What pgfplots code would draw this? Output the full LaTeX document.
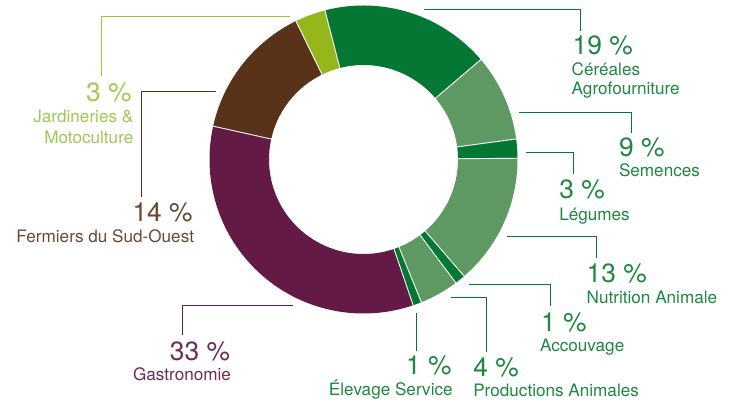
\documentclass[border=0pt]{standalone}
\usepackage{pgfplots}
\usepackage{pgfplotstable}
\pgfplotsset{compat=1.18}
\usepackage{fontspec}
\setmainfont{TeX Gyre Heros}
\definecolor{dgreen}{RGB}{3,119,51}
\definecolor{mgreen}{RGB}{94,152,99}
\definecolor{purp}{RGB}{99,27,69}
\definecolor{brn}{RGB}{88,51,26}
\definecolor{lgreen}{RGB}{149,183,28}
\definecolor{tgreen}{RGB}{30,135,65}
\definecolor{tlgreen}{RGB}{160,200,80}
\definecolor{tbrown}{RGB}{105,72,52}
\definecolor{tpurp}{RGB}{110,42,88}
\definecolor{lline}{RGB}{155,195,60}

\pgfplotstableread{
value color
17.8 dgreen
9.1 mgreen
2.0 dgreen
13.8 mgreen
1.1 dgreen
4.1 mgreen
0.9 dgreen
33.7 purp
14.3 brn
3.2 lgreen
}\shares

\newcommand\pct[1]{{\fontsize{26.5}{30}\selectfont #1}}
\newcommand\lab[1]{{\fontsize{17.2}{20}\selectfont #1}}
\def\startang{104.5}

\begin{document}
\begin{tikzpicture}
\begin{axis}[
  scale only axis, width=730bp, height=401bp,
  xmin=0, xmax=730, ymin=0, ymax=401,
  hide axis, clip=false,
]
\path (axis cs:0,0) rectangle (axis cs:730,401);
% donut segments
\def\acc{0}
\pgfplotsforeachungrouped \i in {0,...,9}{%
  \pgfplotstablegetelem{\i}{value}\of\shares \let\segval\pgfplotsretval
  \pgfplotstablegetelem{\i}{color}\of\shares \let\segcol\pgfplotsretval
  \pgfmathsetmacro\aone{\startang-3.6*\acc}%
  \pgfmathsetmacro\atwo{\startang-3.6*(\acc+\segval)}%
  \edef\temp{\noexpand\addplot[fill=\segcol, draw=none, domain=0:3, samples=241]
   ({363.5+(154-59.5*min(max(x-1,0),1))*cos(\aone+(\atwo-\aone)*(min(x,1)-max(x-2,0)))},
    {241.5+(154-59.5*min(max(x-1,0),1))*sin(\aone+(\atwo-\aone)*(min(x,1)-max(x-2,0)))});}%
  \temp
  \pgfmathsetmacro\acc{\acc+\segval}%
}
% white separators
\def\acc{0}
\pgfplotsforeachungrouped \i in {0,...,9}{%
  \pgfplotstablegetelem{\i}{value}\of\shares \let\segval\pgfplotsretval
  \pgfmathsetmacro\acc{\acc+\segval}%
  \pgfmathsetmacro\aone{\startang-3.6*\acc}%
  \edef\temp{\noexpand\addplot[white, line width=0.9pt, domain=93:155.5, samples=2]
   ({363.5+x*cos(\aone)},{241.5+x*sin(\aone)});}%
  \temp
}
% leader lines
\addplot[dgreen, line width=0.8pt] coordinates {(424,391.5) (580.7,391.5) (580.7,370.3)};
\addplot[dgreen, line width=0.8pt] coordinates {(519,288.3) (631.7,288.3) (631.7,268.3)};
\addplot[dgreen, line width=0.8pt] coordinates {(526,248.7) (573.3,248.7) (573.3,227)};
\addplot[dgreen, line width=0.8pt] coordinates {(507.3,164.3) (596,164.3) (596,143.3)};
\addplot[dgreen, line width=0.8pt] coordinates {(469.3,116.7) (550.3,116.7) (550.3,95)};
\addplot[dgreen, line width=0.8pt] coordinates {(450.7,103.7) (486,103.7) (486,49.3)};
\addplot[dgreen, line width=0.8pt] coordinates {(416,87.7) (416,50)};
\addplot[purp, line width=0.8pt] coordinates {(292.7,95.3) (182.7,95.3) (182.7,66)};
\addplot[brn, line width=0.8pt] coordinates {(216,309.7) (141.7,309.7) (141.7,204.3)};
\addplot[lline, line width=0.8pt] coordinates {(290,385) (101,385) (101,325)};
% labels
\begin{scope}[every node/.style={inner sep=0pt, outer sep=0pt}]
\node[anchor=base west, text=tgreen] at (axis cs:572.7,346.7) {\pct{19 \%}};
\node[anchor=base west, text=tgreen] at (axis cs:571.7,325.5) {\lab{Céréales}};
\node[anchor=base west, text=tgreen] at (axis cs:571.7,306) {\lab{Agrofourniture}};
\node[anchor=base west, text=tgreen] at (axis cs:619,244.3) {\pct{9 \%}};
\node[anchor=base west, text=tgreen] at (axis cs:619,224.3) {\lab{Semences}};
\node[anchor=base west, text=tgreen] at (axis cs:559.3,202) {\pct{3 \%}};
\node[anchor=base west, text=tgreen] at (axis cs:559.3,180.3) {\lab{Légumes}};
\node[anchor=base west, text=tgreen] at (axis cs:586.7,118.7) {\pct{13 \%}};
\node[anchor=base west, text=tgreen] at (axis cs:586.7,97.7) {\lab{Nutrition Animale}};
\node[anchor=base west, text=tgreen] at (axis cs:541,70) {\pct{1 \%}};
\node[anchor=base west, text=tgreen] at (axis cs:540,50) {\lab{Accouvage}};
\node[anchor=base west, text=tgreen] at (axis cs:473.3,25) {\pct{4 \%}};
\node[anchor=base west, text=tgreen] at (axis cs:473.3,4.3) {\lab{Productions Animales}};
\node[anchor=base east, text=tgreen] at (axis cs:451.7,27) {\pct{1 \%}};
\node[anchor=base east, text=tgreen] at (axis cs:452.7,5.3) {\lab{Élevage Service}};
\node[anchor=base east, text=tpurp] at (axis cs:230,41) {\pct{33 \%}};
\node[anchor=base east, text=tpurp] at (axis cs:231,20.3) {\lab{Gastronomie}};
\node[anchor=base east, text=tbrown] at (axis cs:192.7,179.3) {\pct{14 \%}};
\node[anchor=base east, text=tbrown] at (axis cs:194,158.7) {\lab{Fermiers du Sud-Ouest}};
\node[anchor=base east, text=tlgreen] at (axis cs:131.7,299.3) {\pct{3 \%}};
\node[anchor=base east, text=tlgreen] at (axis cs:133.3,278.3) {\lab{Jardineries \&}};
\node[anchor=base east, text=tlgreen] at (axis cs:133.3,257.7) {\lab{Motoculture}};
\end{scope}
\end{axis}
\end{tikzpicture}
\end{document}
